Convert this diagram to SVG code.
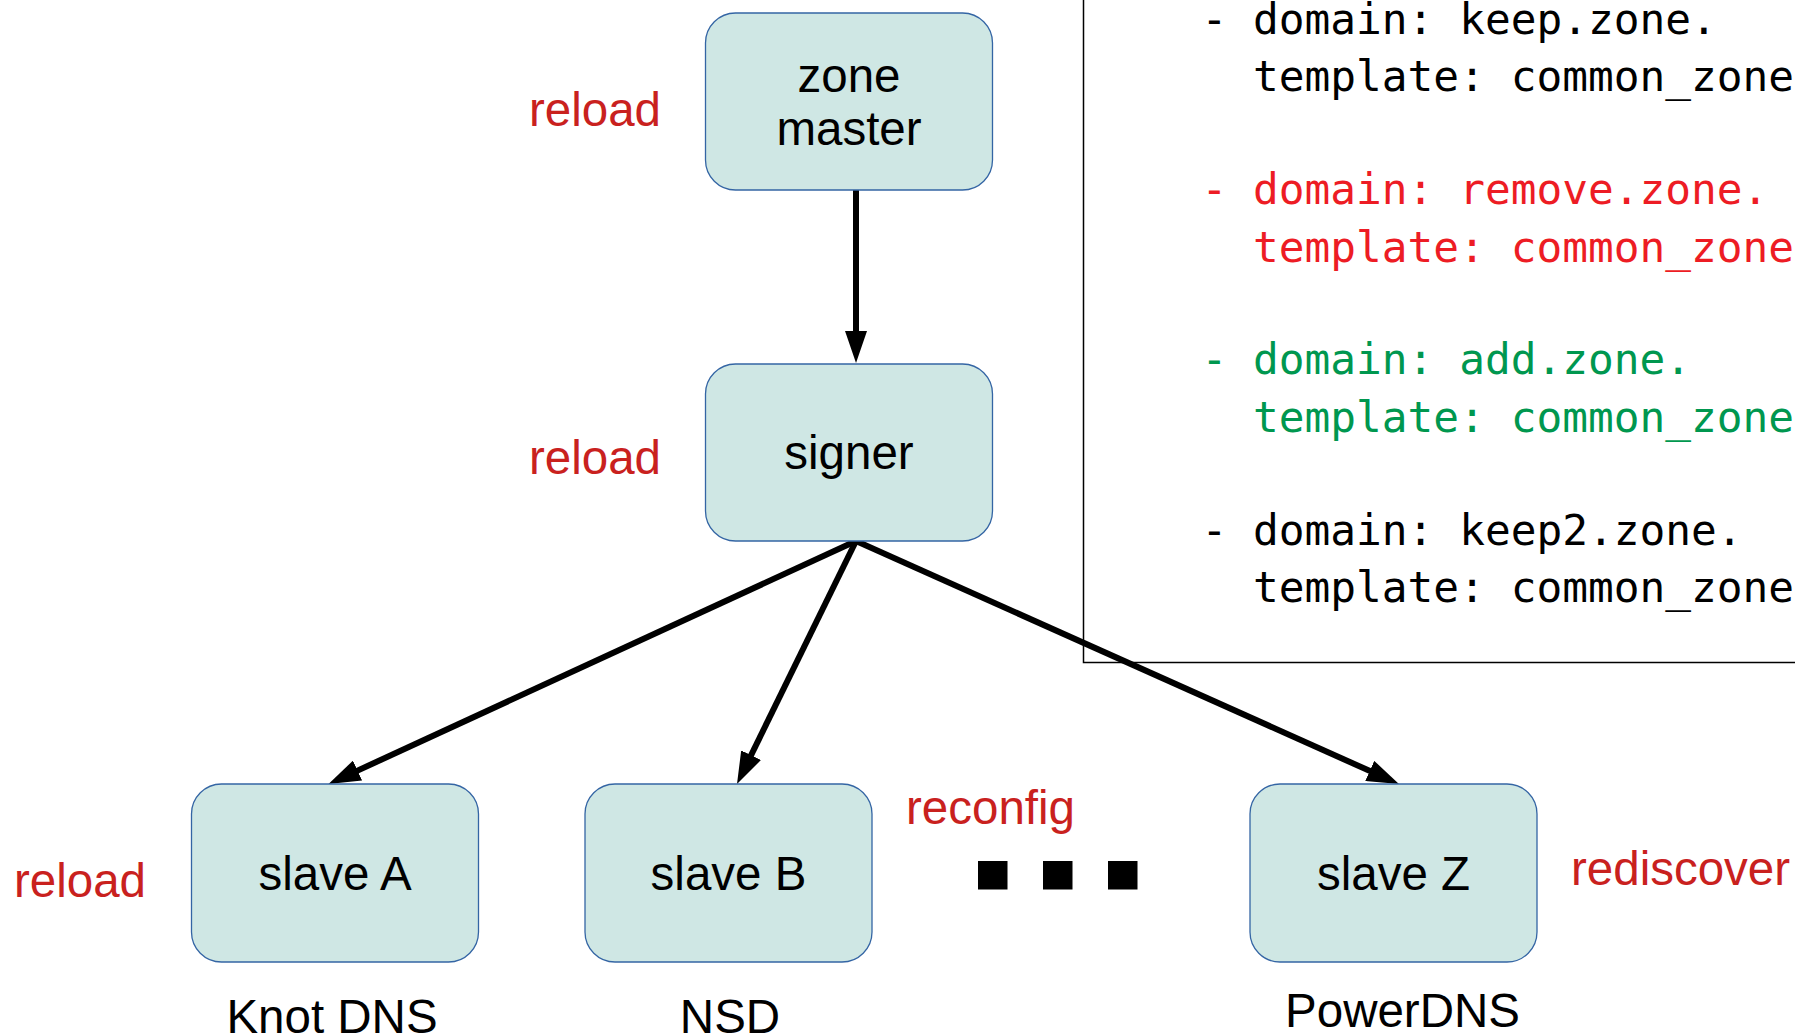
<svg xmlns="http://www.w3.org/2000/svg" width="1795" height="1036" viewBox="0 0 1795 1036">
<style>
.box{fill:#cfe7e4;stroke:#3465a4;stroke-width:1.3}
.lbl{font-family:"Liberation Sans",Arial,sans-serif;font-size:47.5px;fill:#000;text-anchor:middle}
.red{font-family:"Liberation Sans",Arial,sans-serif;font-size:47.5px;fill:#c9211e}
.code{font-family:"DejaVu Sans Mono",monospace;font-size:42.8px}
.k{fill:#000}.r{fill:#ed1c24}.g{fill:#00974f}
.conn{stroke:#000;stroke-width:6;fill:none;marker-end:url(#ah)}
</style>
<defs>
<marker id="ah" markerUnits="userSpaceOnUse" markerWidth="32" markerHeight="22" refX="12" refY="11" orient="auto" viewBox="0 0 32 22">
<path d="M0,0 L32,11 L0,22 z" fill="#000"/>
</marker>
</defs>
<rect x="1083.5" y="-10" width="800" height="672.5" fill="none" stroke="#000" stroke-width="1.5"/>
<g id="code">
<text class="code k" x="1201.5" y="34">- domain: keep.zone.</text>
<text class="code k" x="1253" y="91">template: common_zone</text>
<text class="code r" x="1201.5" y="204">- domain: remove.zone.</text>
<text class="code r" x="1253" y="261.5">template: common_zone</text>
<text class="code g" x="1201.5" y="374">- domain: add.zone.</text>
<text class="code g" x="1253" y="431.5">template: common_zone</text>
<text class="code k" x="1201.5" y="544.5">- domain: keep2.zone.</text>
<text class="code k" x="1253" y="602">template: common_zone</text>
</g>
<g id="connectors">
<line class="conn" x1="856" y1="190" x2="856" y2="343"/>
<line class="conn" x1="856" y1="541" x2="346.7" y2="775.6"/>
<line class="conn" x1="856" y1="541" x2="745.8" y2="766"/>
<line class="conn" x1="856" y1="541" x2="1380.7" y2="775.8"/>
</g>
<g id="zone-master">
<rect class="box" x="705.5" y="13" width="287" height="177" rx="30"/>
<text class="lbl" x="849" y="92">zone</text>
<text class="lbl" x="849" y="145">master</text>
</g>
<g id="signer">
<rect class="box" x="705.5" y="364" width="287" height="177" rx="30"/>
<text class="lbl" x="849" y="469">signer</text>
</g>
<g id="slave-a">
<rect class="box" x="191.5" y="784" width="287" height="178" rx="30"/>
<text class="lbl" x="335" y="889.5">slave A</text>
</g>
<g id="slave-b">
<rect class="box" x="585" y="784" width="287" height="178" rx="30"/>
<text class="lbl" x="728.5" y="889.5">slave B</text>
</g>
<g id="slave-z">
<rect class="box" x="1250" y="784" width="287" height="178" rx="30"/>
<text class="lbl" x="1393.5" y="889.5">slave Z</text>
</g>
<g id="labels">
<text class="red" x="529" y="126">reload</text>
<text class="red" x="529" y="474">reload</text>
<text class="red" x="14" y="897">reload</text>
<text class="red" x="906" y="824">reconfig</text>
<text class="red" x="1571" y="884.5">rediscover</text>
<text class="lbl" x="332" y="1032.5">Knot DNS</text>
<text class="lbl" x="730" y="1032.5">NSD</text>
<text class="lbl" x="1402.5" y="1027">PowerDNS</text>
</g>
<g id="ellipsis" fill="#000">
<rect x="978" y="861" width="29.5" height="28.5"/>
<rect x="1043" y="861" width="29.5" height="28.5"/>
<rect x="1108" y="861" width="29.5" height="28.5"/>
</g>
</svg>
